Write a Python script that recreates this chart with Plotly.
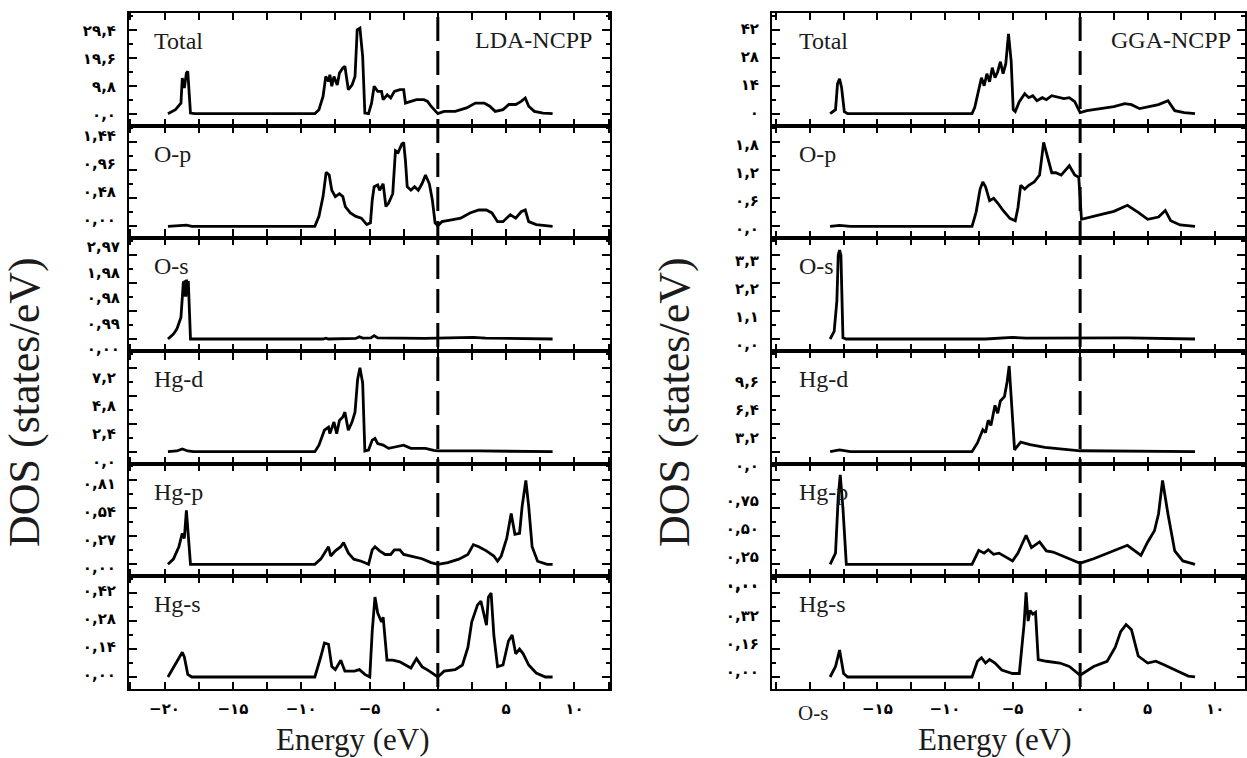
import plotly.graph_objects as go

W, H = 1247, 758

# ---------------- data ----------------
panel_names = ["Total", "O-p", "O-s", "Hg-d", "Hg-p", "Hg-s"]

energy_ticks = [-20, -15, -10, -5, 0, 5, 10]
lda_energy_text = ["−۲۰", "−۱۵", "−۱۰", "−۵", "۰", "۵", "۱۰"]
gga_energy_text = ["", "−۱۵", "−۱۰", "−۵", "۰", "۵", "۱۰"]

lda_steps = [9.8, 0.48, 0.99, 2.4, 0.27, 0.14]
gga_steps = [14, 0.6, 1.1, 3.2, 0.25, 0.16]

lda_tick_text = [
    ["۰,۰", "۹,۸", "۱۹,۶", "۲۹,۴"],
    ["۰,۰۰", "۰,۴۸", "۰,۹۶", "۱,۴۴"],
    ["۰,۰۰", "۰,۹۹", "۰,۹۸", "۱,۹۸", "۲,۹۷"],
    ["۰,۰", "۲,۴", "۴,۸", "۷,۲"],
    ["۰,۰۰", "۰,۲۷", "۰,۵۴", "۰,۸۱"],
    ["۰,۰۰", "۰,۱۴", "۰,۲۸", "۰,۴۲"],
]
lda_os_label_values = [0, 0.99, 1.98, 2.97, 3.96]
gga_tick_text = [
    ["۰", "۱۴", "۲۸", "۴۲"],
    ["۰,۰", "۰,۶", "۱,۲", "۱,۸"],
    ["۰,۰", "۱,۱", "۲,۲", "۳,۳"],
    ["۰,۰", "۳,۲", "۶,۴", "۹,۶"],
    ["۰,۰۰", "۰,۲۵", "۰,۵۰", "۰,۷۵"],
    ["۰,۰۰", "۰,۱۶", "۰,۳۲", ""],
]

# LDA curves (energy eV, DOS)
lda_total_e = [-19.75, -19.2, -18.8, -18.7, -18.55, -18.4, -18.3, -18.1, -17.8, -9.0, -8.7, -8.4, -8.2, -8.0, -7.9, -7.76, -7.6, -7.36, -7.2, -6.95, -6.8, -6.55, -6.28, -6.06, -5.9, -5.7, -5.5, -5.34, -5.07, -4.85, -4.66, -4.4, -4.12, -4.0, -3.7, -3.45, -3.18, -2.78, -2.5, -2.37, -1.97, -1.56, -1.02, -0.75, -0.5, -0.2, 0.0, 0.46, 1.27, 2.1, 2.75, 3.4, 3.8, 4.2, 4.77, 5.2, 5.7, 6.1, 6.4, 6.65, 7.06, 7.7, 8.4]
lda_total_d = [0, 1.4, 3.7, 12.5, 9, 14.2, 14.8, 0.2, 0, 0, 1.4, 6, 13, 11.3, 13.6, 9.6, 13, 10, 14.2, 16, 16.6, 8.4, 10, 13, 29.4, 30, 20, 0.2, 0, 3.7, 9.6, 7.8, 7.8, 4.9, 6.6, 5.5, 7.8, 8.4, 8.4, 3.7, 4.3, 4.9, 4.9, 4.3, 2.6, 0.8, 0, 0.8, 0.8, 2.0, 3.7, 3.7, 2.6, 0.8, 1.4, 3.2, 3.2, 4.3, 5.5, 2.6, 0.8, 0.2, 0]

lda_op_e = [-19.75, -18.9, -18.4, -18.0, -9.0, -8.7, -8.4, -8.17, -7.95, -7.76, -7.5, -7.2, -6.95, -6.77, -6.4, -6.0, -5.6, -5.2, -4.93, -4.8, -4.66, -4.4, -4.26, -4.0, -3.8, -3.6, -3.3, -3.1, -2.9, -2.64, -2.5, -2.37, -2.24, -1.97, -1.7, -1.43, -1.16, -0.9, -0.62, -0.4, -0.2, 0.0, 0.3, 1.0, 1.67, 2.35, 3.0, 3.55, 3.96, 4.37, 4.77, 5.3, 5.7, 6.1, 6.4, 6.65, 7.2, 8.4]
lda_op_d = [0, 0.01, 0.02, 0, 0, 0.17, 0.51, 0.93, 0.88, 0.62, 0.51, 0.56, 0.51, 0.34, 0.23, 0.17, 0.14, 0.03, 0.06, 0.45, 0.68, 0.71, 0.62, 0.73, 0.34, 0.40, 0.56, 1.30, 1.27, 1.41, 1.44, 1.13, 0.68, 0.62, 0.68, 0.62, 0.73, 0.88, 0.73, 0.45, 0.06, 0.01, 0.08, 0.11, 0.14, 0.23, 0.28, 0.28, 0.23, 0.08, 0.08, 0.2, 0.14, 0.25, 0.28, 0.08, 0.03, 0]

lda_os_e = [-19.75, -19.35, -19.1, -18.8, -18.7, -18.62, -18.56, -18.5, -18.44, -18.38, -18.32, -18.26, -18.1, -17.8, -8.4, -8.2, -8.0, -6.0, -5.75, -5.5, -4.9, -4.66, -4.4, -1.0, 1.5, 2.6, 3.5, 8.4]
lda_os_d = [0, 0.17, 0.35, 0.76, 1.46, 2.04, 1.5, 2.08, 1.5, 2.1, 1.6, 2.05, 0, 0, 0, 0.03, 0, 0.02, 0.08, 0.03, 0.04, 0.12, 0.04, 0.02, 0.03, 0.06, 0.03, 0]

lda_hgd_e = [-19.75, -19.1, -18.7, -18.3, -17.9, -9.0, -8.7, -8.3, -8.0, -7.9, -7.6, -7.4, -7.2, -6.95, -6.8, -6.55, -6.28, -6.06, -5.87, -5.7, -5.5, -5.34, -5.07, -4.8, -4.6, -4.4, -4.0, -3.6, -3.05, -2.5, -1.97, -0.9, -0.3, 0.0, 3.0, 8.4]
lda_hgd_d = [0, 0.06, 0.23, 0.06, 0, 0, 0.56, 1.84, 2.1, 1.55, 2.54, 1.55, 2.68, 2.97, 3.39, 1.84, 2.54, 3.39, 6.2, 7.2, 5.9, 0.06, 0.14, 0.99, 1.13, 0.7, 0.56, 0.28, 0.42, 0.56, 0.28, 0.28, 0.1, 0.06, 0.06, 0]

lda_hgp_e = [-19.75, -19.35, -18.95, -18.7, -18.55, -18.4, -18.1, -17.8, -9.0, -8.57, -8.3, -8.0, -7.84, -7.5, -7.1, -6.9, -6.55, -6.15, -5.6, -5.07, -4.8, -4.6, -4.26, -3.85, -3.45, -3.18, -2.78, -2.5, -1.97, -1.16, -0.5, 0.0, 0.73, 1.54, 2.2, 2.6, 3.0, 3.55, 4.1, 4.37, 4.64, 5.04, 5.37, 5.64, 5.98, 6.17, 6.44, 6.65, 6.9, 7.3, 8.0, 8.4]
lda_hgp_d = [0, 0.05, 0.17, 0.30, 0.25, 0.52, 0, 0, 0, 0.05, 0.11, 0.17, 0.08, 0.13, 0.17, 0.21, 0.11, 0.05, 0.03, 0, 0.14, 0.17, 0.13, 0.095, 0.095, 0.14, 0.14, 0.095, 0.08, 0.054, 0.016, 0, 0.016, 0.05, 0.095, 0.19, 0.17, 0.13, 0.08, 0.03, 0.08, 0.25, 0.49, 0.29, 0.30, 0.56, 0.81, 0.56, 0.17, 0.03, 0, 0]

lda_hgs_e = [-19.75, -19.35, -19.1, -18.7, -18.55, -18.3, -18.0, -9.0, -8.57, -8.3, -8.0, -7.76, -7.5, -7.1, -6.8, -6.1, -5.74, -5.34, -4.98, -4.8, -4.6, -4.4, -4.12, -4.0, -3.72, -3.3, -2.78, -2.37, -1.97, -1.56, -1.16, -0.62, 0.0, 0.46, 1.27, 1.8, 2.2, 2.48, 2.9, 3.15, 3.42, 3.56, 3.7, 3.9, 4.1, 4.37, 4.77, 5.17, 5.44, 5.7, 5.98, 6.25, 6.65, 7.2, 7.87, 8.4]
lda_hgs_d = [0, 0.05, 0.076, 0.124, 0.10, 0.013, 0, 0, 0.10, 0.17, 0.164, 0.052, 0.037, 0.084, 0.029, 0.029, 0.037, 0.013, 0, 0.23, 0.40, 0.32, 0.275, 0.30, 0.084, 0.084, 0.076, 0.06, 0.045, 0.092, 0.052, 0.029, 0, 0.029, 0.037, 0.06, 0.148, 0.275, 0.36, 0.38, 0.29, 0.26, 0.40, 0.42, 0.21, 0.052, 0.06, 0.18, 0.21, 0.116, 0.14, 0.116, 0.06, 0.02, 0, 0]

# GGA curves (energy eV, DOS)
gga_total_e = [-18.5, -18.1, -17.95, -17.8, -17.65, -17.45, -17.2, -8.0, -7.8, -7.5, -7.3, -7.1, -6.9, -6.7, -6.5, -6.3, -6.1, -5.9, -5.7, -5.5, -5.3, -5.1, -4.95, -4.8, -4.5, -4.1, -3.8, -3.5, -3.2, -2.8, -2.5, -2.1, -1.6, -1.2, -0.8, -0.4, 0.0, 0.5, 1.5, 2.5, 3.3, 3.8, 4.4, 5.2, 5.8, 6.5, 7.0, 7.7, 8.5]
gga_total_d = [0, 2, 15, 17.5, 13, 1, 0, 0, 3, 12, 18, 14, 20, 16, 23, 18, 21, 26, 20, 25, 40, 26, 2, 1, 6, 10, 8, 9, 6.5, 8, 7, 9, 8, 7.5, 8, 6, 0.5, 1.5, 2.5, 3.5, 5, 4.5, 2.5, 3.5, 4.5, 6.5, 1.5, 0.5, 0]

gga_op_e = [-18.5, -17.8, -17.0, -8.0, -7.7, -7.4, -7.2, -7.0, -6.7, -6.4, -6.1, -5.7, -5.2, -4.8, -4.6, -4.4, -4.1, -3.8, -3.4, -3.0, -2.7, -2.4, -2.1, -1.8, -1.4, -1.1, -0.8, -0.4, -0.1, 0.1, 0.6, 1.5, 2.5, 3.5, 4.3, 5.0, 5.8, 6.3, 6.7, 7.4, 8.5]
gga_op_d = [0, 0.02, 0, 0, 0.3, 0.8, 0.95, 0.85, 0.55, 0.6, 0.5, 0.34, 0.17, 0.12, 0.4, 0.88, 0.8, 0.88, 0.95, 1.1, 1.8, 1.45, 1.15, 1.15, 1.1, 1.2, 1.3, 1.1, 1.05, 0.15, 0.18, 0.25, 0.32, 0.45, 0.3, 0.15, 0.2, 0.34, 0.12, 0.03, 0]

gga_os_e = [-18.5, -18.2, -18.0, -17.9, -17.8, -17.7, -17.55, -17.3, -7.0, -6.0, -5.0, -4.0, 2.5, 3.5, 8.5]
gga_os_d = [0, 0.3, 1.5, 3.3, 3.5, 3.3, 0.05, 0, 0, 0.03, 0.06, 0.03, 0.02, 0.04, 0]

gga_hgd_e = [-18.5, -17.8, -17.0, -8.0, -7.6, -7.2, -7.0, -6.8, -6.6, -6.3, -6.1, -5.9, -5.6, -5.4, -5.25, -5.05, -4.85, -4.4, -3.7, -2.6, -1.5, 0.0, 8.5]
gga_hgd_d = [0, 0.2, 0, 0, 1.0, 2.5, 2.2, 3.6, 3.0, 5.3, 4.4, 5.8, 6.3, 8.0, 9.8, 5.0, 0.2, 1.1, 0.8, 0.5, 0.3, 0.1, 0]

gga_hgp_e = [-18.5, -18.1, -17.9, -17.75, -17.55, -17.3, -8.0, -7.5, -7.1, -6.8, -6.4, -6.0, -5.0, -4.6, -4.0, -3.6, -3.0, -2.5, -2.0, -1.0, 0.0, 1.0, 2.5, 3.5, 4.5, 5.0, 5.5, 5.8, 6.1, 6.5, 7.0, 7.6, 8.5]
gga_hgp_d = [0, 0.1, 0.6, 0.8, 0.5, 0, 0, 0.125, 0.1, 0.13, 0.09, 0.1, 0.03, 0.1, 0.26, 0.15, 0.2, 0.12, 0.11, 0.06, 0.01, 0.05, 0.12, 0.17, 0.08, 0.2, 0.3, 0.45, 0.75, 0.45, 0.12, 0.03, 0]

gga_hgs_e = [-18.5, -18.1, -17.8, -17.5, -17.2, -8.0, -7.6, -7.3, -7.0, -6.7, -6.3, -5.8, -5.0, -4.5, -4.15, -4.0, -3.85, -3.7, -3.5, -3.3, -3.1, -2.5, -1.5, -0.8, 0.0, 1.0, 2.0, 2.6, 3.0, 3.4, 3.8, 4.3, 5.0, 5.6, 6.2, 7.0, 8.0, 8.5]
gga_hgs_d = [0, 0.06, 0.154, 0.02, 0, 0, 0.09, 0.11, 0.08, 0.1, 0.08, 0.04, 0.02, 0.02, 0.3, 0.485, 0.32, 0.38, 0.36, 0.37, 0.1, 0.09, 0.08, 0.06, 0.01, 0.06, 0.09, 0.17, 0.26, 0.3, 0.27, 0.12, 0.08, 0.09, 0.07, 0.04, 0.005, 0]

lda_curves = [(lda_total_e, lda_total_d), (lda_op_e, lda_op_d), (lda_os_e, lda_os_d),
              (lda_hgd_e, lda_hgd_d), (lda_hgp_e, lda_hgp_d), (lda_hgs_e, lda_hgs_d)]
gga_curves = [(gga_total_e, gga_total_d), (gga_op_e, gga_op_d), (gga_os_e, gga_os_d),
              (gga_hgd_e, gga_hgd_d), (gga_hgp_e, gga_hgp_d), (gga_hgs_e, gga_hgs_d)]

# ---------------- layout helpers ----------------
TOP, BOTTOM = 13, 689
PH = (BOTTOM - TOP) / 6.0


def fx(p):
    return p / W


def fy(p):
    return 1 - p / H


columns = [
    dict(method="LDA-NCPP", xpix=(129, 610), xr=(-22.6, 12.6), curves=lda_curves,
         steps=lda_steps, texts=lda_tick_text, etext=lda_energy_text,
         shifts=[1, -7, 0, 10, 3, -2], label_x=152, method_x=594, ytitle_x=24, xtitle_x=353),
    dict(method="GGA-NCPP", xpix=(772, 1245), xr=(-22.8, 12.2), curves=gga_curves,
         steps=gga_steps, texts=gga_tick_text, etext=gga_energy_text,
         shifts=[-1, 2, 6, 14, 20, -5], label_x=797, method_x=1233, ytitle_x=674, xtitle_x=995),
]

fig = go.Figure()
layout = dict(
    template="none",
    width=W, height=H, margin=dict(l=0, r=0, t=0, b=0, pad=0, autoexpand=False),
    paper_bgcolor="white", plot_bgcolor="white", showlegend=False,
    annotations=[], shapes=[],
)

tickfont = dict(family="DejaVu Sans", size=15, color="black", weight="bold")
serif = "Liberation Serif"
axis_color = "black"
text_color = "#1b1b1b"

for c, col in enumerate(columns):
    x0p, x1p = col["xpix"]
    for i in range(6):
        n = c * 6 + i + 1
        ax = "" if n == 1 else str(n)
        e, d = col["curves"][i]
        fig.add_trace(go.Scatter(x=e, y=d, mode="lines",
                                 line=dict(color="black", width=2.8),
                                 xaxis="x" + ax, yaxis="y" + ax, hoverinfo="skip"))
        top = TOP + PH * i
        bot = TOP + PH * (i + 1)
        s = col["steps"][i]
        bottom_panel = (i == 5)
        xt_vals = [-22.5 + 2.5 * k for k in range(15)]
        xt_text = []
        for v in xt_vals:
            if v in energy_ticks:
                xt_text.append(col["etext"][energy_ticks.index(v)])
            else:
                xt_text.append("")
        layout["xaxis" + ax] = dict(
            domain=[fx(x0p), fx(x1p)], range=list(col["xr"]), anchor="y" + ax,
            tickmode="array", tickvals=xt_vals, ticktext=xt_text,
            showticklabels=bottom_panel, ticks="inside", ticklen=7, tickwidth=2,
            tickcolor=axis_color, mirror="allticks", showline=True, linecolor=axis_color,
            linewidth=2, showgrid=False, zeroline=False, tickfont=tickfont,
            ticklabelstandoff=5, automargin=False,
        )
        texts = col["texts"][i]
        is_overlay = (c == 0 and i == 2)
        major_vals = [0, s, 2 * s, 3 * s]
        layout["yaxis" + ax] = dict(
            domain=[fy(bot), fy(top)], range=[-0.43 * s, 3.6 * s], anchor="x" + ax,
            tickmode="array", tickvals=major_vals,
            ticktext=(["", "", "", ""] if is_overlay else texts),
            showticklabels=not is_overlay,
            ticks="inside", ticklen=8, tickwidth=2, tickcolor=axis_color,
            minor=dict(tickmode="array", tickvals=[s * (k + 0.5) for k in range(4)],
                       ticks="inside", ticklen=4, tickwidth=2, tickcolor=axis_color),
            mirror="allticks", showline=True, linecolor=axis_color, linewidth=2,
            showgrid=False, zeroline=False, tickfont=tickfont,
            ticklabelshift=col["shifts"][i], ticklabelstandoff=8, automargin=False,
            ticklabeloverflow="allow",
        )
        # panel label
        layout["annotations"].append(dict(
            text=panel_names[i], x=fx(col["label_x"]), y=fy(top + 28), xref="paper", yref="paper",
            xanchor="left", yanchor="middle", showarrow=False,
            font=dict(family=serif, size=24, color=text_color)))
    # dashed zero line
    xa = "x" if c == 0 else "x7"
    layout["shapes"].append(dict(
        type="line", xref=xa, yref="paper", x0=0, x1=0, y0=fy(BOTTOM - 2), y1=fy(TOP + 4),
        line=dict(color="black", width=3, dash="24px,10px")))
    # method label
    layout["annotations"].append(dict(
        text=col["method"], x=fx(col["method_x"]), y=fy(40), xref="paper", yref="paper",
        xanchor="right", yanchor="middle", showarrow=False,
        font=dict(family=serif, size=24, color=text_color)))
    # axis titles
    layout["annotations"].append(dict(
        text="Energy (eV)", x=fx(col["xtitle_x"]), y=fy(739), xref="paper", yref="paper",
        xanchor="center", yanchor="middle", showarrow=False,
        font=dict(family=serif, size=31, color=text_color)))
    layout["annotations"].append(dict(
        text="DOS (states/eV)", x=fx(col["ytitle_x"]), y=fy(402), xref="paper", yref="paper",
        xanchor="center", yanchor="middle", showarrow=False, textangle=-90,
        font=dict(family=serif, size=44, color=text_color)))

# the GGA Hg-p zero label sits low, between the Hg-p and Hg-s panels
layout["annotations"].append(dict(
    text=gga_tick_text[4][0], x=fx(761), y=fy(586), xref="paper", yref="paper",
    xanchor="right", yanchor="middle", showarrow=False, font=tickfont))

# overlay axis carrying the five printed labels of the LDA O-s panel
os_top = TOP + PH * 2
os_bot = TOP + PH * 3
lab_top_px, lab_bot_px = 247, 349
os_step_px = (lab_bot_px - lab_top_px) / 4.0
os_range = [-(os_bot - lab_bot_px) / os_step_px * 0.99, (lab_bot_px - os_top) / os_step_px * 0.99]
fig.add_trace(go.Scatter(x=[None], y=[None], xaxis="x3", yaxis="y13", hoverinfo="skip"))
layout["yaxis13"] = dict(
    domain=[fy(os_bot), fy(os_top)], range=os_range, anchor="x3",
    overlaying="y3", side="left", tickmode="array", tickvals=lda_os_label_values,
    ticktext=lda_tick_text[2], ticks="", showline=False, showgrid=False, zeroline=False,
    tickfont=tickfont, ticklabelstandoff=8, automargin=False,
)

# stray "O-s" box under the GGA energy axis
layout["annotations"].append(dict(
    text="O-s", x=fx(813), y=fy(713), xref="paper", yref="paper",
    xanchor="center", yanchor="middle", showarrow=False,
    font=dict(family=serif, size=21, color=text_color)))

fig.update_layout(**layout)
fig.write_html("out.html")
